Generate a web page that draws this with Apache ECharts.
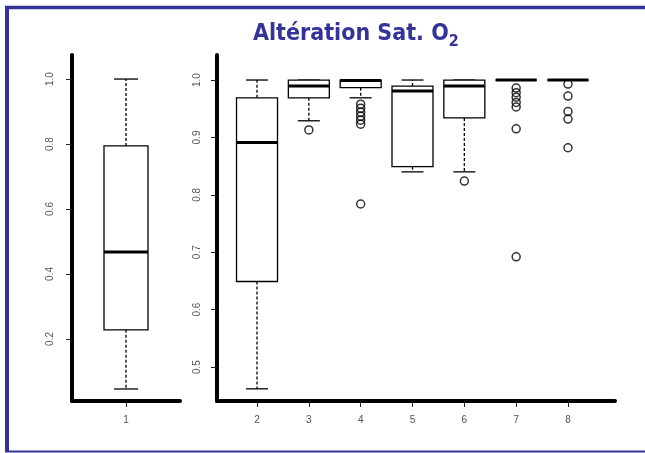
<!DOCTYPE html>
<html>
<head>
<meta charset="utf-8">
<script src="https://cdn.jsdelivr.net/npm/echarts@6/dist/echarts.min.js"></script>
<style>html,body{margin:0;padding:0;background:#fff}#c{width:645px;height:453px}</style>
</head>
<body>
<div id="c"></div>
<script>
// ---- data ----
const categories   = [1, 2, 3, 4, 5, 6, 7, 8];
const whiskerLow   = [0.046, 0.462, 0.929, 0.969, 0.840, 0.840, 1.0, 1.0];
const quartile1    = [0.228, 0.649, 0.969, 0.9866, 0.849, 0.934, 1.0, 1.0];
const medians      = [0.468, 0.891, 0.9895, 0.999, 0.981, 0.9895, 1.0, 1.0];
const quartile3    = [0.794, 0.969, 1.0, 1.0, 0.9895, 1.0, 1.0, 1.0];
const whiskerHigh  = [1.0, 1.0, 1.0, 1.0, 1.0, 1.0, 1.0, 1.0];
const outlierCats  = [3, 4, 4, 4, 4, 4, 4, 4, 6, 7, 7, 7, 7, 7, 7, 7, 8, 8, 8, 8, 8];
const outlierVals  = [0.913, 0.958, 0.951, 0.944, 0.937, 0.930, 0.923, 0.784, 0.824,
                      0.986, 0.978, 0.970, 0.961, 0.953, 0.915, 0.692,
                      0.993, 0.972, 0.945, 0.932, 0.882];
const leftTicks    = [0.2, 0.4, 0.6, 0.8, 1.0];
const rightTicks   = [0.5, 0.6, 0.7, 0.8, 0.9, 1.0];
const leftCats     = [1];
const rightCats    = [2, 3, 4, 5, 6, 7, 8];
const titleText    = 'Altération Sat. O';
const titleSub     = '2';

// ---- build ----
function boxRows(catList) {
  return catList.map(c => {
    const i = categories.indexOf(c);
    return [c, whiskerLow[i], quartile1[i], medians[i], quartile3[i], whiskerHigh[i]];
  });
}
function outRows(catList) {
  const r = [];
  outlierCats.forEach((c, i) => { if (catList.includes(c)) r.push([c, outlierVals[i]]); });
  return r;
}
function makeRender(halfW, capHalf) {
  return function (params, api) {
    const x = api.value(0);
    const lo = api.coord([x, api.value(1)]);
    const q1 = api.coord([x, api.value(2)]);
    const md = api.coord([x, api.value(3)]);
    const q3 = api.coord([x, api.value(4)]);
    const hi = api.coord([x, api.value(5)]);
    const cx = lo[0];
    const ch = [];
    const dash = {stroke: '#000', lineWidth: 1.3, lineDash: [3, 2]};
    const solid = {stroke: '#000', lineWidth: 1.3};
    if (hi[1] < q3[1]) ch.push({type: 'line', shape: {x1: cx, y1: q3[1], x2: cx, y2: hi[1]}, style: dash});
    if (lo[1] > q1[1]) ch.push({type: 'line', shape: {x1: cx, y1: q1[1], x2: cx, y2: lo[1]}, style: dash});
    ch.push({type: 'line', shape: {x1: cx - capHalf, y1: hi[1], x2: cx + capHalf, y2: hi[1]}, style: solid});
    ch.push({type: 'line', shape: {x1: cx - capHalf, y1: lo[1], x2: cx + capHalf, y2: lo[1]}, style: solid});
    ch.push({type: 'rect', shape: {x: cx - halfW, y: q3[1], width: 2 * halfW, height: q1[1] - q3[1]},
             style: {fill: '#fff', stroke: '#000', lineWidth: 1.3}});
    ch.push({type: 'line', shape: {x1: cx - halfW, y1: md[1], x2: cx + halfW, y2: md[1]},
             style: {stroke: '#000', lineWidth: 3}});
    return {type: 'group', children: ch};
  };
}
const axisLineStyle = {show: true, lineStyle: {color: '#000', width: 4}};
const tickStyle = {lineStyle: {color: '#222', width: 1}, length: 6};
const labelColor = '#555';
function yAxis(grid, min, max, ticks, margin) {
  return {
    type: 'value', gridIndex: grid, min: min, max: max,
    axisLine: axisLineStyle,
    splitLine: {show: false},
    axisTick: Object.assign({show: true, customValues: ticks}, tickStyle),
    axisLabel: {customValues: ticks, rotate: 90, fontSize: 10, color: labelColor, margin: margin,
                fontFamily: 'Liberation Sans, Arial, sans-serif', formatter: v => v.toFixed(1)}
  };
}
function xAxis(grid, min, max, ticks) {
  return {
    type: 'value', gridIndex: grid, min: min, max: max,
    axisLine: Object.assign({onZero: false}, axisLineStyle),
    splitLine: {show: false},
    axisTick: Object.assign({show: true, customValues: ticks}, tickStyle),
    axisLabel: {customValues: ticks, fontSize: 10, color: labelColor, margin: 14,
                fontFamily: 'Liberation Sans, Arial, sans-serif', formatter: v => String(Math.round(v))}
  };
}

const chart = echarts.init(document.getElementById('c'), null, {renderer: 'canvas'});
chart.setOption({
  animation: false,
  backgroundColor: '#fff',
  title: {
    text: '{a|' + titleText + '}{b|' + titleSub + '}',
    left: 248, top: 13,
    textStyle: {
      rich: {
        a: {fontSize: 23, fontWeight: 'bold', color: '#333399', lineHeight: 32, verticalAlign: 'middle',
            fontFamily: "'Liberation Sans Narrow', 'DejaVu Sans Condensed', 'Liberation Sans', sans-serif"},
        b: {fontSize: 16, fontWeight: 'bold', color: '#333399', lineHeight: 15, verticalAlign: 'bottom',
            fontFamily: "'Liberation Sans Narrow', 'DejaVu Sans Condensed', 'Liberation Sans', sans-serif"}
      }
    }
  },
  graphic: [
    {type: 'line', shape: {x1: 7, y1: 7.5, x2: 7, y2: 452}, style: {stroke: '#33339a', lineWidth: 4}},
    {type: 'line', shape: {x1: 5, y1: 7.5, x2: 645, y2: 7.5}, style: {stroke: '#33339a', lineWidth: 3.5}},
    {type: 'line', shape: {x1: 5, y1: 451.5, x2: 645, y2: 451.5}, style: {stroke: '#33339a', lineWidth: 2}}
  ],
  grid: [
    {left: 72, width: 108, top: 55, height: 346},
    {left: 217, width: 398, top: 55, height: 346}
  ],
  xAxis: [xAxis(0, 0.5, 1.5, leftCats), xAxis(1, 1.228, 8.907, rightCats)],
  yAxis: [yAxis(0, 0.009, 1.074, leftTicks, 17), yAxis(1, 0.4408, 1.0436, rightTicks, 15)],
  series: [
    {type: 'custom', xAxisIndex: 0, yAxisIndex: 0, renderItem: makeRender(22, 12),
     encode: {x: 0, y: [1, 2, 3, 4, 5]}, data: boxRows(leftCats), silent: true},
    {type: 'custom', xAxisIndex: 1, yAxisIndex: 1, renderItem: makeRender(20.5, 11),
     encode: {x: 0, y: [1, 2, 3, 4, 5]}, data: boxRows(rightCats), silent: true},
    {type: 'scatter', xAxisIndex: 1, yAxisIndex: 1, symbol: 'circle', symbolSize: 8,
     itemStyle: {color: 'transparent', borderColor: '#000', borderWidth: 1.5},
     data: outRows(rightCats), silent: true}
  ]
});
</script>
</body>
</html>
